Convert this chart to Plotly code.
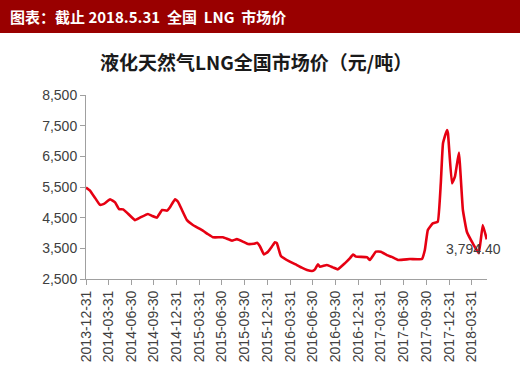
import plotly.graph_objects as go

dates = [
    "2013-12-31", "2014-01-16", "2014-02-05", "2014-02-25", "2014-03-13", "2014-04-07",
    "2014-04-27", "2014-05-13", "2014-05-29", "2014-06-14", "2014-07-16", "2014-08-05",
    "2014-09-06", "2014-09-22", "2014-10-12", "2014-11-02", "2014-11-22", "2014-12-04",
    "2014-12-24", "2015-01-05", "2015-01-21", "2015-02-10", "2015-03-06", "2015-03-26",
    "2015-04-15", "2015-05-06", "2015-05-26", "2015-07-05", "2015-08-10", "2015-08-30",
    "2015-09-23", "2015-10-13", "2015-11-06", "2015-11-19", "2015-12-01", "2015-12-17",
    "2016-01-02", "2016-01-18", "2016-01-30", "2016-02-07", "2016-02-23", "2016-03-30",
    "2016-04-27", "2016-05-17", "2016-06-07", "2016-06-27", "2016-07-09", "2016-07-21",
    "2016-07-29", "2016-08-26", "2016-09-19", "2016-10-09", "2016-11-06", "2016-11-27",
    "2016-12-09", "2016-12-21", "2017-02-03", "2017-02-15", "2017-03-11", "2017-03-31",
    "2017-04-24", "2017-05-14", "2017-06-08", "2017-07-26", "2017-09-12", "2017-09-24",
    "2017-10-06", "2017-10-26", "2017-11-15", "2017-11-27", "2017-12-06", "2017-12-22",
    "2017-12-26", "2018-01-11", "2018-01-23", "2018-02-08", "2018-02-24", "2018-03-12",
    "2018-04-05", "2018-04-29", "2018-05-15", "2018-05-31",
]
prices = [
    5480, 5380, 5150, 4920, 4950, 5100,
    5000, 4780, 4770, 4660, 4420, 4500,
    4620, 4560, 4500, 4750, 4730, 4840,
    5100, 5020, 4750, 4420, 4260, 4170,
    4075, 3960, 3860, 3860, 3750, 3800,
    3720, 3640, 3650, 3680, 3560, 3300,
    3390, 3560, 3700, 3660, 3250, 3065,
    2955, 2870, 2795, 2760, 2815, 2980,
    2900, 2955, 2880, 2815, 3010, 3180,
    3300, 3230, 3210, 3120, 3390, 3390,
    3280, 3220, 3120, 3150, 3150, 3445,
    4100, 4315, 4370, 5600, 6925, 7360,
    7250, 5620, 5835, 6620, 4750, 4040,
    3660, 3340, 4260, 3794.40,
]
tick_dates = [
    "2013-12-31", "2014-03-31", "2014-06-30", "2014-09-30", "2014-12-31", "2015-03-31",
    "2015-06-30", "2015-09-30", "2015-12-31", "2016-03-31", "2016-06-30", "2016-09-30",
    "2016-12-31", "2017-03-31", "2017-06-30", "2017-09-30", "2017-12-31", "2018-03-31",
]
y_ticks = [2500, 3500, 4500, 5500, 6500, 7500, 8500]
y_tick_text = ["2,500", "3,500", "4,500", "5,500", "6,500", "7,500", "8,500"]
header = "图表：截止 2018.5.31\u00a0\u00a0全国\u00a0\u00a0LNG\u00a0\u00a0市场价"
title = "液化天然气LNG全国市场价（元/吨）"
last_label = "3,794.40"

FONT = "Liberation Sans, Arial, Noto Sans CJK SC, sans-serif"
CJK = "Noto Sans CJK SC, sans-serif"

fig = go.Figure()
fig.add_trace(go.Scatter(
    x=dates, y=prices, mode="lines",
    line=dict(color="#E60012", width=2.6, shape="spline", smoothing=0.3),
    hoverinfo="skip", showlegend=False,
))

fig.update_layout(
    width=520, height=380,
    margin=dict(l=86, r=33, t=95, b=101),
    paper_bgcolor="white", plot_bgcolor="white",
    font=dict(family=FONT, color="#404040", size=14),
    xaxis=dict(
        type="date", range=["2013-12-31", "2018-06-01"],
        tickvals=tick_dates, ticktext=tick_dates, tickangle=-90,
        showgrid=False, zeroline=False,
        showline=True, linecolor="#A0A0A0", linewidth=1,
        ticks="outside", ticklen=5, tickcolor="#A0A0A0",
        tickfont=dict(size=14, color="#404040"),
    ),
    yaxis=dict(
        range=[2500, 8500], tickvals=y_ticks, ticktext=y_tick_text,
        showgrid=False, zeroline=False,
        showline=True, linecolor="#A0A0A0", linewidth=1,
        ticks="outside", ticklen=5, tickcolor="#A0A0A0",
        tickfont=dict(size=14, color="#404040"),
    ),
    shapes=[dict(
        type="rect", xref="paper", yref="paper",
        x0=-0.3, x1=1.2, y0=(279 - 33) / 184, y1=1.6,
        fillcolor="#990000", line=dict(width=0), layer="above",
    )],
    annotations=[
        dict(text=header, xref="paper", yref="paper",
             x=(8 - 86) / 401, y=(279 - 16.5) / 184, xanchor="left", yanchor="middle",
             showarrow=False, font=dict(family=CJK, size=15, color="white", weight="bold")),
        dict(text=title, xref="paper", yref="paper",
             x=(256 - 86) / 401, y=(279 - 61) / 184, xanchor="center", yanchor="middle",
             showarrow=False, font=dict(family=CJK, size=19, color="#1a1a1a", weight="bold")),
        dict(text=last_label, x=dates[-1], y=prices[-1], xref="x", yref="y",
             xanchor="right", yanchor="middle", xshift=16, yshift=-10,
             showarrow=False, font=dict(family=FONT, size=14, color="#404040")),
    ],
)

fig.write_html("out.html", config={"displayModeBar": False, "staticPlot": True},
               post_script="document.body.style.margin='0';")
